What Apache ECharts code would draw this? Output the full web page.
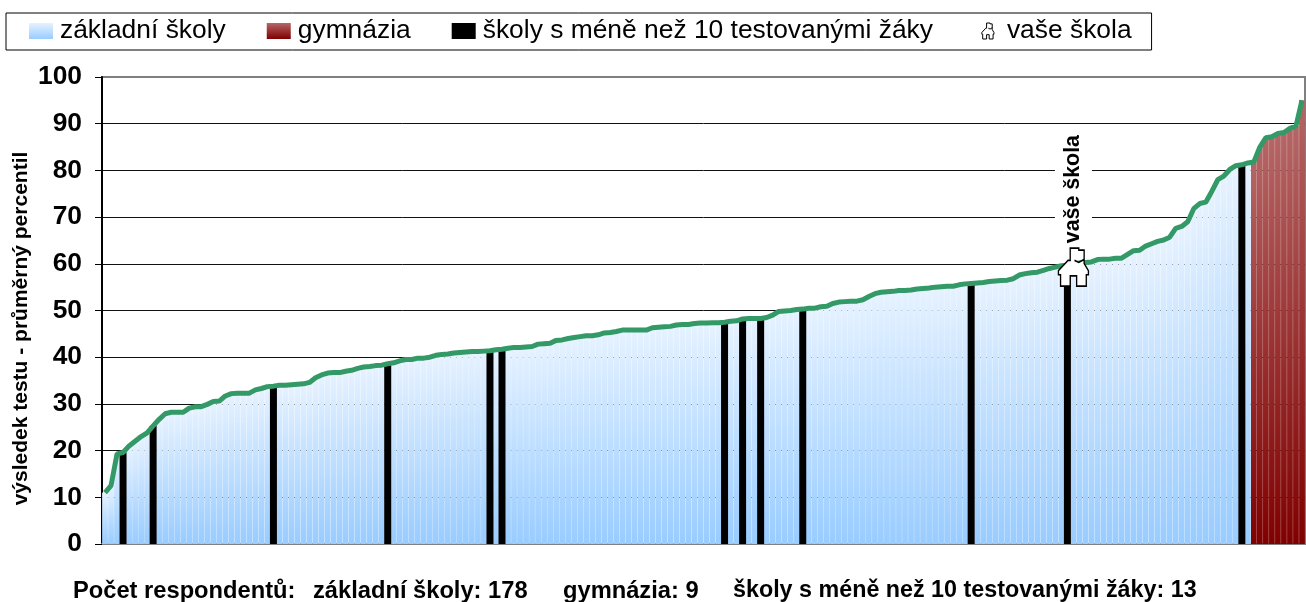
<!DOCTYPE html>
<html>
<head>
<meta charset="utf-8">
<title>Výsledek testu</title>
<script src="https://cdn.jsdelivr.net/npm/echarts@6/dist/echarts.min.js"></script>
<style>
html,body{margin:0;padding:0;background:#fff}
#chart{width:1306px;height:602px}
</style>
</head>
<body>
<div id="chart"></div>
<script>
// hodnoty, serazene podle vysledku (200 skol)
const percentil = [
    11,12.5,19.3,19.6,21,22,23,23.8,25.3,26.7,
    27.9,28.2,28.2,28.2,29.1,29.4,29.4,29.9,30.5,30.6,
    31.7,32.2,32.3,32.3,32.3,33,33.3,33.7,33.8,34,
    34,34.1,34.2,34.3,34.6,35.6,36.2,36.6,36.7,36.7,
    37,37.2,37.6,37.9,38,38.2,38.3,38.6,38.8,39.2,
    39.5,39.5,39.8,39.8,40,40.4,40.6,40.7,40.9,41,
    41.1,41.2,41.2,41.3,41.4,41.6,41.7,41.9,42.1,42.1,
    42.2,42.3,42.8,42.9,43,43.6,43.7,44,44.2,44.4,
    44.6,44.6,44.8,45.2,45.3,45.5,45.8,45.8,45.8,45.8,
    45.8,46.3,46.4,46.5,46.6,46.9,47,47,47.2,47.3,
    47.3,47.4,47.4,47.5,47.7,47.8,48.2,48.3,48.3,48.3,
    48.5,49,49.8,49.9,50,50.2,50.3,50.5,50.5,50.8,
    50.9,51.5,51.8,51.9,52,52,52.3,53,53.6,53.9,
    54,54.1,54.3,54.3,54.4,54.6,54.7,54.8,55,55.1,
    55.2,55.2,55.5,55.7,55.8,55.9,56,56.2,56.3,56.4,
    56.5,56.8,57.6,57.9,58.1,58.2,58.6,59,59.3,59.6,
    59.7,60,60.2,60.3,60.4,60.9,61,61,61.2,61.2,
    62,62.8,62.9,63.8,64.3,64.8,65.1,65.7,67.6,68,
    69,71.8,72.9,73.2,75.5,78,78.8,80.2,81,81.2,
    81.6,81.8,85,87,87.2,87.9,88.1,89,89.5,95
]
const maleSkoly = [3,8,28,47,64,66,103,106,109,116,144,160,189]
const gymnazia = [191,192,193,194,195,196,197,198,199]
const vaseSkola = 161

const nazevZakladni = "základní školy"
const nazevGymnazia = "gymnázia"
const nazevMale = "školy s méně než 10 testovanými žáky"
const nazevVase = "vaše škola"
const pocetZakladni = 178
const pocetGymnazia = 9
const pocetMale = 13
const yTicks = [0,10,20,30,40,50,60,70,80,90,100]

const font = "'Liberation Sans', Arial, sans-serif"
const houseIcon = "path://M12 0H20V2H25V15L29 22V26H27V37H18V27H12V37H3V26H1V22L10 12H12ZM16 12L20 14L25 11"

function gradient(top, bottom) {
    return new echarts.graphic.LinearGradient(0, 0, 0, 1, [
        { offset: 0, color: top },
        { offset: 1, color: bottom }
    ])
}

function footText(text, left, size) {
    return {
        text: text,
        left: left,
        top: 579,
        padding: 0,
        textStyle: { fontFamily: font, fontSize: size, fontWeight: "bold", color: "#000" }
    }
}

const categories = percentil.map((v, i) => String(i + 1))
const zakladniData = percentil.map((v, i) => (maleSkoly.includes(i) || gymnazia.includes(i)) ? null : v)
const gymnaziaData = percentil.map((v, i) => gymnazia.includes(i) ? v : null)
const maleData = percentil.map((v, i) => maleSkoly.includes(i) ? v : null)
const vaseData = percentil.map((v, i) => i === vaseSkola ? v - 0.7 : null)

let chart = echarts.init(document.getElementById("chart"), null, { renderer: "canvas" })
let option = {
    animation: false,
    textStyle: { fontFamily: font, color: "#000" },
    title: [
        footText("Počet respondentů:", 73, 23.7),
        footText(`${nazevZakladni}: ${pocetZakladni}`, 313, 23.7),
        footText(`${nazevGymnazia}: ${pocetGymnazia}`, 563, 23.7),
        footText(`${nazevMale}: ${pocetMale}`, 733, 23.3)
    ],
    legend: {
        left: 6,
        top: 13,
        padding: [5, 20, 6, 23],
        orient: "horizontal",
        borderColor: "#000",
        borderWidth: 1,
        backgroundColor: "#fff",
        itemWidth: 24,
        itemHeight: 16,
        itemGap: 41,
        selectedMode: false,
        // nbsp navic, aby posledni polozka zacinala dal vpravo
        formatter: name => name === nazevMale ? name + "\u00a0" : name,
        textStyle: { fontFamily: font, fontSize: 26.4, color: "#000", padding: [0, 0, 0, 2] },
        data: [
            { name: nazevZakladni, icon: "rect" },
            { name: nazevGymnazia, icon: "rect" },
            { name: nazevMale, icon: "rect" },
            { name: nazevVase, icon: houseIcon, itemStyle: { color: "#fff", borderColor: "#000", borderWidth: 1 } }
        ]
    },
    grid: {
        left: 102,
        right: 1,
        top: 77,
        bottom: 58,
        outerBoundsMode: "none",
        show: true,
        borderColor: "#808080",
        borderWidth: 2,
        backgroundColor: "#fff"
    },
    xAxis: [
        {
            type: "category",
            data: categories,
            boundaryGap: true,
            axisLabel: { show: false },
            axisTick: { show: false },
            axisLine: { lineStyle: { color: "#808080", width: 2 } }
        },
        {
            // skryta osa, aby cerne sloupce mohly byt sirsi
            type: "category",
            data: categories,
            boundaryGap: true,
            show: false
        }
    ],
    yAxis: {
        type: "value",
        min: 0,
        max: 100,
        interval: 10,
        name: "výsledek testu - průměrný percentil",
        nameLocation: "middle",
        nameGap: 70,
        nameMoveOverlap: false,
        nameTextStyle: { fontFamily: font, fontSize: 21, fontWeight: "bold", color: "#000", padding: [0, 36, 0, 0] },
        axisLine: { show: true, lineStyle: { color: "#000", width: 2 } },
        axisTick: { show: true, length: 7, lineStyle: { color: "#000" } },
        axisLabel: { fontFamily: font, fontSize: 26.4, fontWeight: "bold", color: "#000", margin: 20 },
        splitLine: {
            show: true,
            lineStyle: { color: yTicks.map(t => (t === 0 || t === 100) ? "#808080" : "#111"), width: 1 }
        }
    },
    series: [
        {
            name: nazevZakladni,
            type: "bar",
            stack: "skoly",
            data: zakladniData,
            barCategoryGap: "4%",
            itemStyle: { color: gradient("#e6f2ff", "#99ccff") }
        },
        {
            name: nazevGymnazia,
            type: "bar",
            stack: "skoly",
            data: gymnaziaData,
            itemStyle: { color: gradient("#b56666", "#800000") }
        },
        {
            name: nazevMale,
            type: "bar",
            xAxisIndex: 1,
            data: maleData,
            barWidth: 7,
            z: 3,
            itemStyle: { color: "#000" }
        },
        {
            name: "prumerny percentil",
            type: "line",
            data: percentil,
            showSymbol: false,
            symbol: "none",
            smooth: false,
            z: 4,
            lineStyle: { color: "#339966", width: 5 }
        },
        {
            name: nazevVase,
            type: "scatter",
            data: vaseData,
            symbol: houseIcon,
            symbolSize: [30, 38],
            z: 5,
            itemStyle: { color: "#fff", borderColor: "#000", borderWidth: 1.5, opacity: 1 },
            label: {
                show: true,
                position: "top",
                rotate: 90,
                align: "left",
                verticalAlign: "middle",
                distance: 4,
                formatter: nazevVase,
                fontFamily: font,
                fontSize: 21.4,
                fontWeight: "bold",
                color: "#000",
                backgroundColor: "#fff",
                padding: [8, 0, 8, 0]
            }
        }
    ]
}
chart.setOption(option)
</script>
</body>
</html>
